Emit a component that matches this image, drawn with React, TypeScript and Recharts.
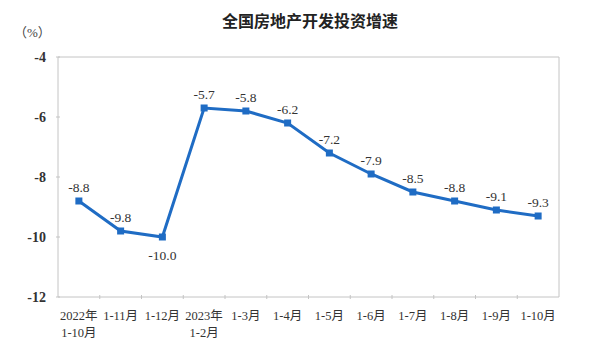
import { LineChart, Line, XAxis, YAxis, LabelList } from "recharts";

const periods = ["2022年|1-10月", "1-11月", "1-12月", "2023年|1-2月", "1-3月", "1-4月", "1-5月", "1-6月", "1-7月", "1-8月", "1-9月", "1-10月"];
const growth = [-8.8, -9.8, -10.0, -5.7, -5.8, -6.2, -7.2, -7.9, -8.5, -8.8, -9.1, -9.3];
const yTicks = [-4, -6, -8, -10, -12];

const data = periods.map((p, i) => ({ period: p, growth: growth[i] }));

const W = 600;
const H = 356;
const left = 58;
const right = 41;
const top = 57;
const bottom = 59;
const band = (W - left - right) / periods.length;
const serif = "'Liberation Serif', 'Noto Sans CJK SC', serif";
const blue = "#1f6cc4";
const frame = "#c4c4c4";

function XTick({ x, y, payload, index }: any) {
  const lines = String(payload.value).split("|");
  return (
    <g>
      {index < periods.length - 1 && (
        <line x1={x + band / 2} x2={x + band / 2} y1={y} y2={y - 4} stroke={frame} />
      )}
      {lines.map((l, i) => (
        <text key={i} x={x} y={y + 21 + i * 17} textAnchor="middle" fontSize={12.5} fontFamily={serif} fill="#333">
          {l}
        </text>
      ))}
    </g>
  );
}

function YTick({ x, y, payload }: any) {
  return (
    <g>
      <line x1={x} x2={x + 4} y1={y} y2={y} stroke={frame} />
      <text x={x - 10} y={y + 5} textAnchor="end" fontSize={14} fontFamily={serif} fontWeight="bold" fill="#333">
        {payload.value}
      </text>
    </g>
  );
}

function ValueLabel({ x, y, value, index }: any) {
  // the 1-12月 value sits below its point, the rest above
  const below = index === 2;
  return (
    <text x={x} y={below ? y + 23 : y - 9} textAnchor="middle" fontSize={13.5} fontFamily={serif} fill="#333">
      {Number(value).toFixed(1)}
    </text>
  );
}

export default function App() {
  return (
    <div style={{ position: "absolute", left: 0, top: 0, width: W, height: H, background: "#fff" }}>
      <div style={{ position: "absolute", left: 222, top: 8, fontFamily: "'Noto Sans CJK SC', sans-serif", fontWeight: "bold", fontSize: 16, color: "#222", whiteSpace: "nowrap" }}>
        全国房地产开发投资增速
      </div>
      <div style={{ position: "absolute", left: 14, top: 22, fontFamily: serif, fontSize: 13, color: "#444" }}>（%）</div>
      <LineChart width={W} height={H} data={data} margin={{ top: 0, right: 0, left: 0, bottom: 0 }} style={{ position: "absolute", left: 0, top: 0 }}>
        <XAxis dataKey="period" xAxisId="b" height={bottom} tick={<XTick />} tickLine={false} tickSize={0} interval={0}
          padding={{ left: band / 2, right: band / 2 }} axisLine={{ stroke: frame }} />
        <XAxis dataKey="period" xAxisId="t" orientation="top" height={top} tick={false} tickLine={false}
          padding={{ left: band / 2, right: band / 2 }} axisLine={{ stroke: frame }} />
        <YAxis yAxisId="l" width={left} domain={[-12, -4]} ticks={yTicks} tick={<YTick />} tickLine={false} tickSize={0}
          axisLine={{ stroke: frame }} />
        <YAxis yAxisId="r" orientation="right" width={right} domain={[-12, -4]} tick={false} tickLine={false}
          axisLine={{ stroke: frame }} />
        <Line xAxisId="b" yAxisId="l" dataKey="growth" stroke={blue} strokeWidth={3} activeDot={false} isAnimationActive={false}
          dot={(p: any) => <rect key={p.index} x={p.cx - 3.5} y={p.cy - 3.5} width={7} height={7} fill={blue} />}
        >
          <LabelList dataKey="growth" content={<ValueLabel />} />
        </Line>
      </LineChart>
    </div>
  );
}
